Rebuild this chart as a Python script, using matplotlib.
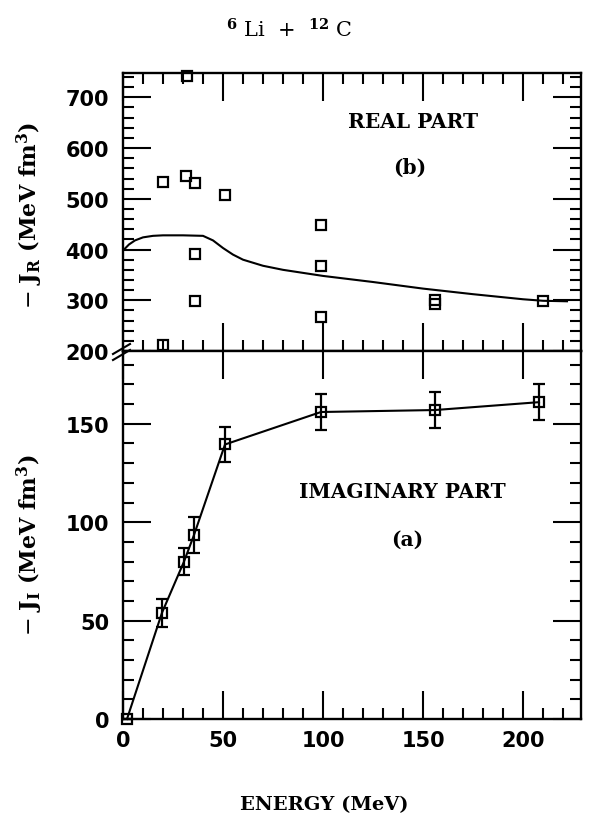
import numpy as np
import matplotlib
matplotlib.use("Agg")
import matplotlib.pyplot as plt

# Real part (upper panel): scattered squares and the model curve
real_E = [20, 20, 31.5, 32, 36, 36, 36, 51, 99, 99, 99, 156, 156, 210]
real_J = [534, 211, 545, 742, 532, 391, 299, 507, 449, 367, 268, 300, 292, 298]

curve_E = [0, 3, 6, 10, 15, 20, 30, 40, 45, 50, 55, 60, 70, 80, 100, 125, 150, 175, 200, 210, 222]
curve_J = [398, 410, 418, 424, 427, 428, 428, 427, 418, 403, 390, 380, 368, 360, 348, 336, 323, 312, 302, 299, 298]

# Imaginary part (lower panel) with error bars
imag_E = [2, 19.5, 30.5, 35.5, 51, 99, 156, 208]
imag_J = [0, 54, 80, 93.5, 139.5, 156, 157, 161]
imag_err = [0, 7, 7, 9, 9, 9, 9, 9]

plt.rcParams['mathtext.fontset'] = 'dejavuserif'
serif = 'DejaVu Serif'

fig = plt.figure(figsize=(6.16, 8.29), dpi=100)
L, R = 123/616, 581/616
top, brk, bot = 1-74/829, 1-352/829, 1-720/829
ax1 = fig.add_axes([L, brk, R-L, top-brk])
ax2 = fig.add_axes([L, bot, R-L, brk-bot], sharex=ax1)

ax1.plot(curve_E, curve_J, color='black', lw=1.5)
ax1.plot(real_E, real_J, 's', mfc='none', mec='black', ms=7.5, mew=1.6, clip_on=False)

ax2.errorbar(imag_E, imag_J, yerr=imag_err, fmt='-s', color='black', mfc='none',
             mec='black', ms=7.5, mew=1.6, lw=1.5, elinewidth=1.6, capsize=4, capthick=1.6,
             clip_on=False)

ax1.set_xlim(0, 229)
ax1.set_ylim(200, 748)
ax2.set_ylim(0, 187)

ax1.set_yticks([200, 300, 400, 500, 600, 700])
ax1.set_yticks(np.arange(200, 748, 20), minor=True)
ax2.set_yticks([0, 50, 100, 150])
ax2.set_yticks(np.arange(0, 187, 10), minor=True)
ax2.set_xticks([0, 50, 100, 150, 200])
ax2.set_xticks(np.arange(0, 229, 10), minor=True)

for ax in (ax1, ax2):
    for s in ax.spines.values():
        s.set_linewidth(1.7)
    ax.tick_params(which='both', direction='in', left=True, right=True, top=True, bottom=True,
                   width=1.5, labelsize=15)
    ax.tick_params(which='major', length=20)
    ax.tick_params(which='minor', length=8)
    ax.tick_params(axis='y', pad=10)
    for lab in ax.get_yticklabels() + ax.get_xticklabels():
        lab.set_fontweight('bold')
ax2.tick_params(which='minor', top=False)
ax1.tick_params(labelbottom=False)
ax2.tick_params(axis='x', pad=8)

txt = dict(family=serif, fontsize=14.5, weight='bold', ha='center', va='center')
ax1.text(145, 653, 'REAL PART', **txt)
ax1.text(143.5, 563, '(b)', **txt)
ax2.text(139.5, 115.8, 'IMAGINARY PART', **txt)
ax2.text(142, 91.8, '(a)', **txt)

fig.text(0.469, 1-30/829, r'$^{\mathbf{6}}$ Li  +  $^{\mathbf{12}}$ C', family=serif,
         fontsize=15, ha='center', va='center')
fig.text(324/616, 1-805/829, 'ENERGY (MeV)', family=serif, fontsize=14, weight='bold',
         ha='center', va='center')
fig.text(30/616, 1-215/829, r'$-\ \mathbf{J_R}$ (MeV fm$^{\mathbf{3}}$)', family=serif,
         fontsize=16, weight='bold', rotation=90, ha='center', va='center')
fig.text(30/616, 1-545/829, r'$-\ \mathbf{J_I}$ (MeV fm$^{\mathbf{3}}$)', family=serif,
         fontsize=16, weight='bold', rotation=90, ha='center', va='center')

# axis break marks on the left spine
bx = [113/616, 130/616]
for dy in (-3, 3):
    fig.add_artist(plt.Line2D(bx, [1-(358+dy)/829, 1-(348+dy)/829], color='black', lw=1.5))

fig.savefig('out.png', dpi=100)
